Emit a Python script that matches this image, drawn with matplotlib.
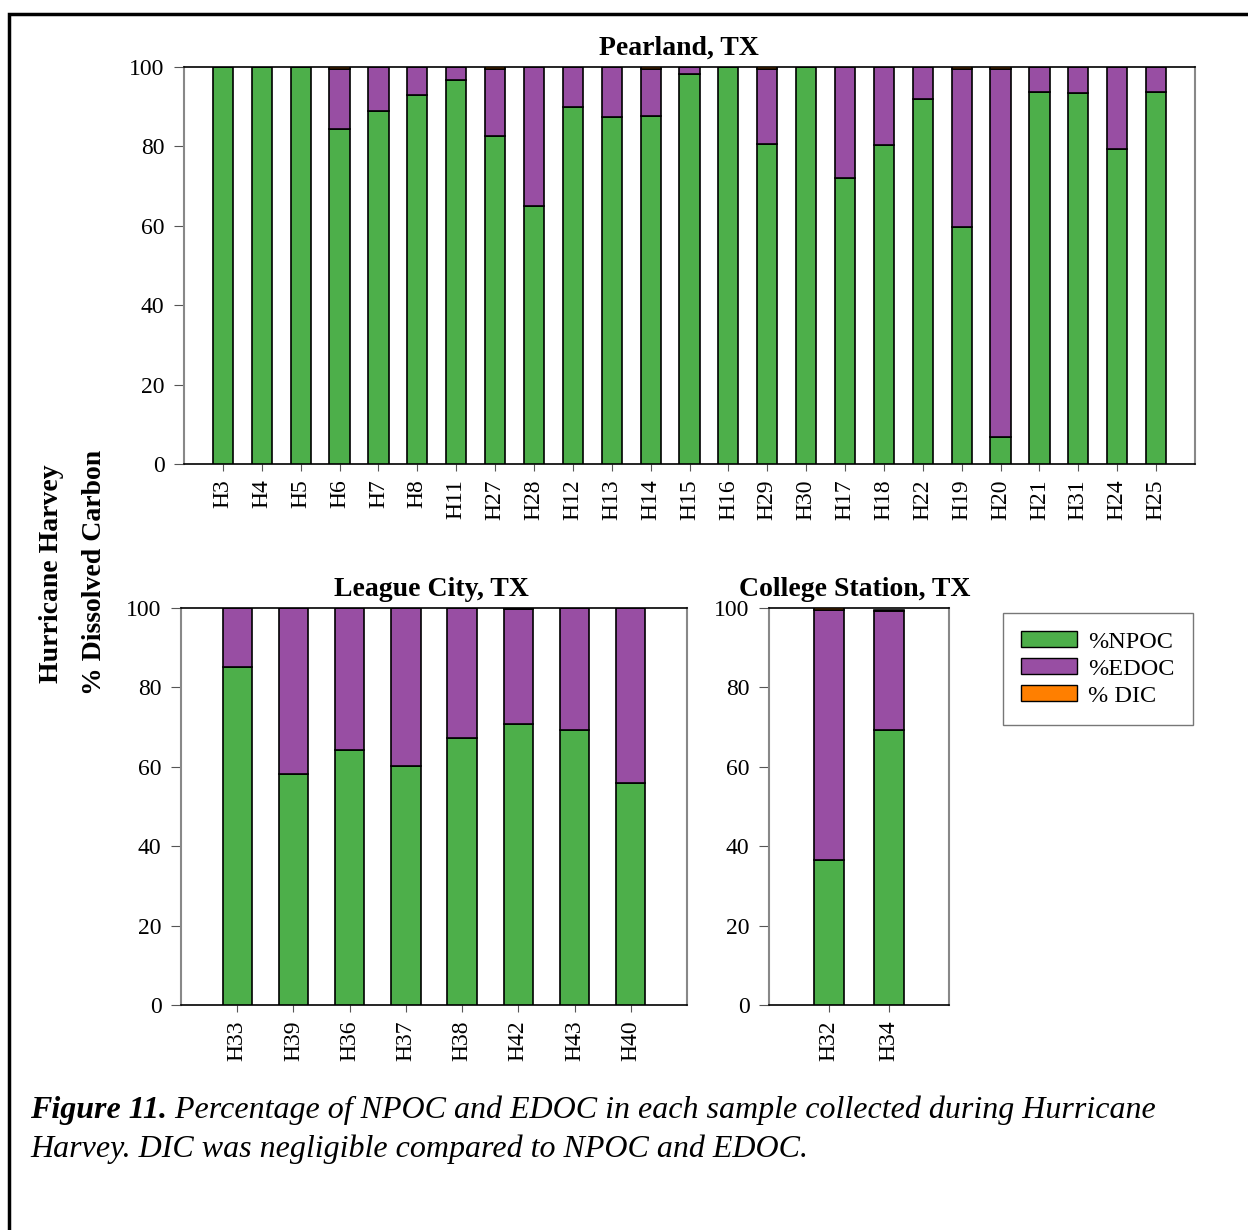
import matplotlib.pyplot as plt
import numpy as np
from matplotlib.patches import Patch, Rectangle

plt.rcParams['font.family'] = 'Liberation Serif'

# Pearland, TX samples
pear_sites = ['H3', 'H4', 'H5', 'H6', 'H7', 'H8', 'H11', 'H27', 'H28', 'H12', 'H13', 'H14', 'H15',
              'H16', 'H29', 'H30', 'H17', 'H18', 'H22', 'H19', 'H20', 'H21', 'H31', 'H24', 'H25']
pear_npoc = [100, 100, 100, 84.4, 88.9, 93.0, 96.7, 82.7, 65.0, 90.0, 87.3, 87.6, 98.2,
             100, 80.7, 100, 72.1, 80.4, 92.0, 59.6, 6.7, 93.7, 93.5, 79.3, 93.6]
pear_edoc = [0, 0, 0, 15.0, 11.1, 7.0, 3.3, 16.9, 35.0, 10.0, 12.7, 11.9, 1.8,
             0, 18.8, 0, 27.9, 19.6, 8.0, 39.8, 92.9, 6.3, 6.5, 20.7, 6.4]
pear_dic = [0, 0, 0, 0.6, 0, 0, 0, 0.4, 0, 0, 0, 0.5, 0,
            0, 0.5, 0, 0, 0, 0, 0.6, 0.4, 0, 0, 0, 0]

# League City, TX samples
league_sites = ['H33', 'H39', 'H36', 'H37', 'H38', 'H42', 'H43', 'H40']
league_npoc = [85.2, 58.2, 64.2, 60.2, 67.3, 70.7, 69.3, 56.0]
league_edoc = [14.8, 41.8, 35.8, 39.8, 32.7, 29.0, 30.7, 44.0]
league_dic = [0, 0, 0, 0, 0, 0.3, 0, 0]

# College Station, TX samples
cs_sites = ['H32', 'H34']
cs_npoc = [36.5, 69.3]
cs_edoc = [63.0, 30.0]
cs_dic = [0.5, 0.3]

green = '#4daf4a'
purple = '#984ea3'
orange = '#ff7f00'

W, H = 1248, 1230
fig = plt.figure(figsize=(W / 100, H / 100), dpi=100)


def px(x0, y0, x1, y1):
    # pixel box -> figure fraction [left, bottom, width, height]
    return [x0 / W, 1 - y1 / H, (x1 - x0) / W, (y1 - y0) / H]


def stacked(ax, sites, npoc, edoc, dic, width, xlim, title, title_x):
    x = np.arange(len(sites))
    npoc = np.array(npoc)
    edoc = np.array(edoc)
    dic = np.array(dic)
    kw = dict(width=width, edgecolor='black', linewidth=1.2, zorder=3)
    ax.bar(x, npoc, color=green, **kw)
    ax.bar(x, edoc, bottom=npoc, color=purple, **kw)
    ax.bar(x, dic, bottom=npoc + edoc, color=orange, **kw)
    ax.set_xlim(*xlim)
    ax.set_ylim(0, 100)
    ax.set_yticks(np.arange(0, 101, 20))
    ax.set_xticks(x)
    ax.set_xticklabels(sites, rotation=90)
    ax.tick_params(axis='both', labelsize=17, direction='out', colors='#555555',
                   labelcolor='black')
    ax.tick_params(axis='y', length=7, pad=7)
    ax.tick_params(axis='x', length=5, pad=6)
    ax.spines['left'].set_color('#888888')
    ax.spines['right'].set_color('#888888')
    ax.spines['left'].set_linewidth(1.5)
    ax.spines['right'].set_linewidth(1.5)
    ax.spines['top'].set_linewidth(1.2)
    ax.spines['bottom'].set_linewidth(1.2)
    ax.set_title(title, fontsize=20, fontweight='bold', pad=9, x=title_x)


ax1 = fig.add_axes(px(184, 67, 1195, 464))
stacked(ax1, pear_sites, pear_npoc, pear_edoc, pear_dic, 0.52, (-1, 25),
        'Pearland, TX', 0.49)

ax2 = fig.add_axes(px(181, 608, 687, 1005))
stacked(ax2, league_sites, league_npoc, league_edoc, league_dic, 0.52, (-1, 8),
        'League City, TX', 0.494)

ax3 = fig.add_axes(px(769, 608, 949, 1005))
stacked(ax3, cs_sites, cs_npoc, cs_edoc, cs_dic, 0.5, (-1, 2),
        'College Station, TX', 0.478)

handles = [Patch(facecolor=green, edgecolor='black', label='%NPOC'),
           Patch(facecolor=purple, edgecolor='black', label='%EDOC'),
           Patch(facecolor=orange, edgecolor='black', label='% DIC')]
leg = fig.legend(handles=handles, loc='upper left', bbox_to_anchor=(1003 / W, 1 - 613 / H),
                 fontsize=17.5, frameon=True, fancybox=False, edgecolor='#555555',
                 handlelength=2.3, handleheight=0.65, labelspacing=0.22,
                 borderpad=0.75, handletextpad=0.45, borderaxespad=0)
leg.get_frame().set_linewidth(1.0)

# shared y label
fig.text(52 / W, 1 - 574 / H, 'Hurricane Harvey', rotation=90, fontsize=20,
         fontweight='bold', ha='center', va='center')
fig.text(95 / W, 1 - 572 / H, '% Dissolved Carbon', rotation=90, fontsize=20,
         fontweight='bold', ha='center', va='center')

# caption
cap_size = 23
t1 = fig.text(30 / W, 1 - 1118 / H, 'Figure 11.', fontsize=cap_size, fontweight='bold',
              fontstyle='italic', ha='left', va='baseline')
fig.canvas.draw()
bb = t1.get_window_extent()
fig.text(bb.x1 / W, 1 - 1118 / H,
         ' Percentage of NPOC and EDOC in each sample collected during Hurricane',
         fontsize=cap_size, fontstyle='italic', ha='left', va='baseline')
fig.text(30 / W, 1 - 1157 / H, 'Harvey. DIC was negligible compared to NPOC and EDOC.',
         fontsize=cap_size, fontstyle='italic', ha='left', va='baseline')

# outer frame
fig.patches.append(Rectangle((9 / W, -0.1), 2, 1.1 - 14 / H, transform=fig.transFigure,
                             fill=False, edgecolor='black', linewidth=2.5, clip_on=False))

fig.savefig('out.png', dpi=100)
